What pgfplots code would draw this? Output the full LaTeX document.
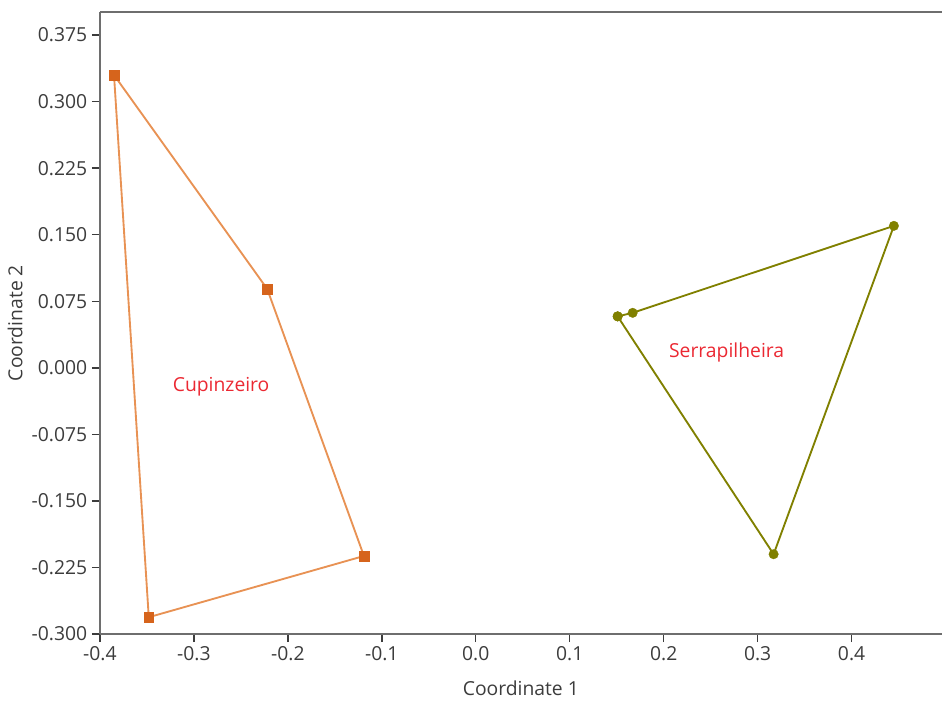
\documentclass[border=0pt]{standalone}
\usepackage{pgfplots}
\pgfplotsset{compat=1.18}
\usepackage{fontspec}
\setmainfont{Open Sans}
\definecolor{cupsq}{RGB}{214,100,28}
\definecolor{cupln}{RGB}{232,146,84}
\definecolor{olv}{RGB}{128,128,0}
\definecolor{lbl}{RGB}{235,40,50}
\definecolor{axgray}{RGB}{110,110,110}
\definecolor{txtgray}{RGB}{60,60,60}
\begin{document}
\begin{tikzpicture}[x=1pt,y=1pt]
\begin{axis}[
  scale only axis,
  width=632pt, height=467pt,
  xmin=-0.4, xmax=0.496,
  ymin=-0.3, ymax=0.401,
  axis lines=left,
  axis line style={axgray, line width=1.8pt, -},
  xtick={-0.4,-0.3,-0.2,-0.1,0,0.1,0.2,0.3,0.4},
  ytick={-0.3,-0.225,-0.15,-0.075,0,0.075,0.15,0.225,0.3,0.375},
  tick align=outside,
  major tick length=6pt,
  tick style={txtgray, line width=1.1pt},
  x tick label style={/pgf/number format/.cd, fixed, fixed zerofill, precision=1, assume math mode=true},
  y tick label style={/pgf/number format/.cd, fixed, fixed zerofill, precision=3, assume math mode=true},
  ticklabel style={font=\fontsize{14.5}{17}\selectfont, text=txtgray},
  xlabel={Coordinate 1},
  ylabel={Coordinate 2},
  label style={font=\fontsize{14.5}{17}\selectfont, text=txtgray},
  xlabel style={yshift=-8pt},
  ylabel style={yshift=0pt},
  clip=false,
]
\addplot[cupln, line width=1.4pt, mark=square*, mark size=3.6pt,
  mark options={fill=cupsq, draw=cupsq, line width=0.2pt}] coordinates {
  (-0.385,0.330) (-0.222,0.089) (-0.119,-0.212) (-0.348,-0.281) (-0.385,0.330)};
\addplot[olv, line width=1.4pt, mark=*, mark size=3.6pt,
  mark options={fill=olv, draw=olv, line width=0.2pt}] coordinates {
  (0.151,0.058) (0.167,0.062) (0.445,0.160) (0.317,-0.210) (0.151,0.058)};
\node[text=lbl, font=\fontsize{14.5}{17}\selectfont] at (axis cs:-0.271,-0.021) {Cupinzeiro};
\node[text=lbl, font=\fontsize{14.5}{17}\selectfont] at (axis cs:0.267,0.017) {Serrapilheira};
\draw[axgray, line width=1.8pt] (rel axis cs:0,1) -- (rel axis cs:1,1);
\path (rel axis cs:0,1) ++(-75pt,9pt) coordinate (tl);
\path (rel axis cs:1,0) ++(0pt,-55.5pt) coordinate (br);
\end{axis}
\path (tl) rectangle (br);
\end{tikzpicture}
\end{document}
